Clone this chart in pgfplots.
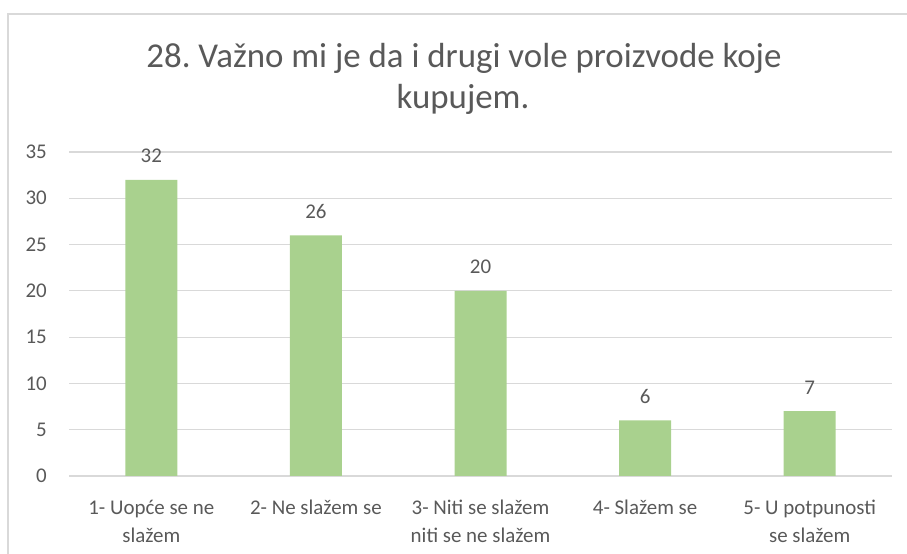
\documentclass[border=0pt]{standalone}
\usepackage{pgfplots}
\pgfplotsset{compat=1.18}
\usepackage{fontspec}
\setmainfont{Carlito}
\frenchspacing
\definecolor{bargreen}{HTML}{A9D18E}
\definecolor{txt}{HTML}{595959}
\definecolor{grd}{HTML}{D9D9D9}
\begin{document}
\begin{tikzpicture}[x=1bp,y=1bp]
\useasboundingbox (0,0) rectangle (907,554);
\begin{scope}
\clip (0,0) rectangle (907,554);
\draw[grd, line width=2bp] (8,-10) rectangle (930,540);
\end{scope}
\node[text=txt, font=\fontsize{35}{40}\selectfont, anchor=base, inner sep=0pt] at (464,486) {28. Važno mi je da i drugi vole proizvode koje};
\node[text=txt, font=\fontsize{35}{40}\selectfont, anchor=base, inner sep=0pt] at (463,445) {kupujem.};
\begin{axis}[
  at={(69bp,78bp)}, anchor=south west,
  scale only axis, width=823bp, height=324bp,
  xmin=-0.5, xmax=4.5, ymin=0, ymax=35,
  ytick={0,5,...,35}, xtick={0,1,2,3,4},
  xticklabels={{1- Uopće se ne\\slažem},{2- Ne slažem se},{3- Niti se slažem\\niti se ne slažem},{4- Slažem se},{5- U potpunosti\\se slažem}},
  ymajorgrids, grid style={grd, line width=1.2bp},
  axis line style={draw=none},
  major tick length=0pt,
  /pgf/number format/assume math mode=true,
  ticklabel style={text=txt, font=\fontsize{21}{28}\selectfont},
  yticklabel style={inner sep=0pt, xshift=-22bp},
  xticklabel style={align=center, inner sep=0pt, yshift=-24bp},
  ybar, bar width=52bp,
  nodes near coords,
  every node near coord/.append style={text=txt, font=\fontsize{21}{22}\selectfont, anchor=base, inner sep=0pt, yshift=17bp},
]
\addplot[fill=bargreen, draw=none] coordinates {(0,32) (1,26) (2,20) (3,6) (4,7)};
\end{axis}
\end{tikzpicture}
\end{document}
